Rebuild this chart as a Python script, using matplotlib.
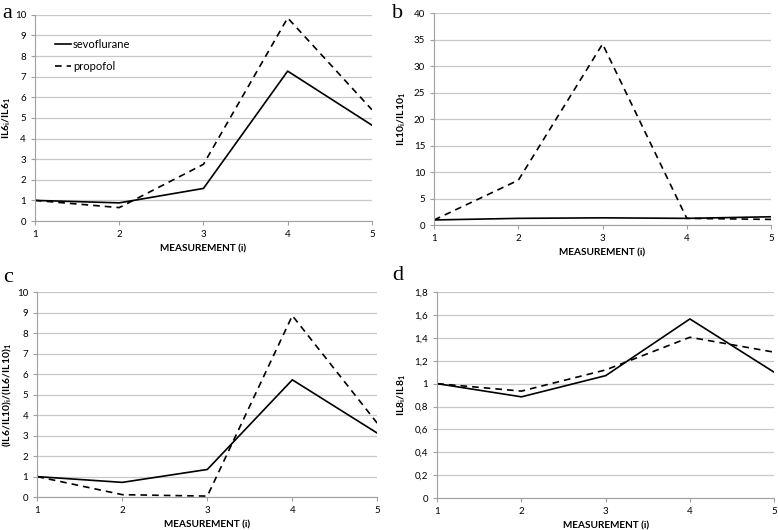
import numpy as np
import matplotlib
matplotlib.use('Agg')
import matplotlib.pyplot as plt
from matplotlib.ticker import FuncFormatter

plt.rcParams['font.family'] = ['Lato', 'DejaVu Sans']
plt.rcParams['mathtext.fontset'] = 'custom'
plt.rcParams['mathtext.rm'] = 'Lato'
plt.rcParams['mathtext.bf'] = 'Lato:bold'

measurement = [1, 2, 3, 4, 5]

# panel a: IL6
il6_sevo = [1.0, 0.88, 1.58, 7.27, 4.65]
il6_prop = [1.0, 0.65, 2.75, 9.85, 5.4]
# panel b: IL10
il10_sevo = [1.0, 1.3, 1.4, 1.3, 1.6]
il10_prop = [1.0, 8.5, 34.2, 1.3, 1.1]
# panel c: IL6/IL10
ratio_sevo = [1.0, 0.72, 1.35, 5.72, 3.12]
ratio_prop = [1.0, 0.12, 0.05, 8.85, 3.6]
# panel d: IL8
il8_sevo = [1.0, 0.885, 1.07, 1.565, 1.1]
il8_prop = [1.0, 0.935, 1.12, 1.405, 1.275]

W, H = 778, 530

# letter, sevo, prop, ylabel, ymax, step, axes rect, ylabel x, letter pos (px)
panels = [
    ('a', il6_sevo, il6_prop, r'IL6$_\mathbf{i}$/IL6$_\mathbf{1}$', 10, 1,
     [0.045, 0.583, 0.433, 0.389], -0.083, (2, 13)),
    ('b', il10_sevo, il10_prop, r'IL10$_\mathbf{i}$/IL10$_\mathbf{1}$', 40, 5,
     [0.558, 0.575, 0.433, 0.400], -0.098, (392, 13)),
    ('c', ratio_sevo, ratio_prop,
     r'(IL6/IL10)$_\mathbf{i}$/(IL6/IL10)$_\mathbf{1}$', 10, 1,
     [0.048, 0.062, 0.437, 0.387], -0.088, (3, 278)),
    ('d', il8_sevo, il8_prop, r'IL8$_\mathbf{i}$/IL8$_\mathbf{1}$', 1.8, 0.2,
     [0.562, 0.060, 0.433, 0.389], -0.107, (392, 275)),
]

fig = plt.figure(figsize=(7.78, 5.30), dpi=100)

def comma_fmt(v, pos):
    s = ('%.1f' % v).rstrip('0').rstrip('.')
    return s.replace('.', ',')

for letter, sevo, prop, ylab, ymax, step, rect, ylx, lpos in panels:
    ax = fig.add_axes(rect)
    ax.plot(measurement, sevo, color='black', lw=1.2, label='sevoflurane')
    ax.plot(measurement, prop, color='black', lw=1.2, ls=(0, (4, 3)), label='propofol')
    ax.set_xlim(1, 5)
    ax.set_ylim(0, ymax)
    ax.set_xticks(measurement)
    ax.set_yticks(np.arange(0, ymax + step / 2, step))
    ax.yaxis.grid(True, color='#c8c8c8', lw=0.9)
    ax.set_axisbelow(True)
    for s in ['top', 'right']:
        ax.spines[s].set_visible(False)
    for s in ['left', 'bottom']:
        ax.spines[s].set_color('#a0a0a0')
    ax.tick_params(axis='both', labelsize=7, colors='#a0a0a0', labelcolor='black',
                   length=3, width=0.8)
    if letter == 'd':
        ax.yaxis.set_major_formatter(FuncFormatter(comma_fmt))
    ax.set_xlabel('MEASUREMENT (i)', fontsize=7.2, fontweight='bold', labelpad=4)
    ax.set_ylabel(ylab, fontsize=7.5, fontweight='bold', va='center')
    ax.yaxis.set_label_coords(ylx, 0.5)
    fig.text(lpos[0] / W, 1 - lpos[1] / H, letter,
             family='Liberation Serif', fontsize=16, va='center', ha='left')
    if letter == 'a':
        ax.legend(loc='upper left', bbox_to_anchor=(0.03, 0.93), frameon=False,
                  fontsize=8, handlelength=1.4, handletextpad=0.2, labelspacing=1.0)

fig.savefig('out.png', dpi=100)
